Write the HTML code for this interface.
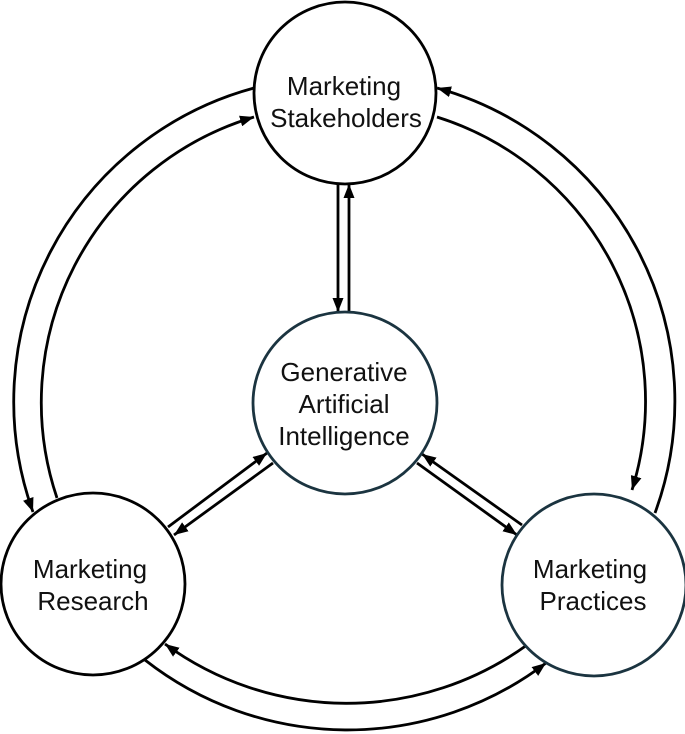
<!DOCTYPE html>
<html><head><meta charset="utf-8"><style>
html,body{margin:0;padding:0;background:#fff;}
svg{display:block;}
text{font-family:"Liberation Sans",Arial,sans-serif;font-size:26px;fill:#111;text-anchor:middle;}
</style></head><body>
<svg width="685" height="734" viewBox="0 0 685 734" xmlns="http://www.w3.org/2000/svg">
<defs>
<marker id="a" viewBox="0 0 14 11" refX="14" refY="5.5" markerWidth="14" markerHeight="11" markerUnits="userSpaceOnUse" orient="auto">
<path d="M0,0 L14,5.5 L0,11 z" fill="#000"/>
</marker>
</defs>
<g fill="none" stroke="#000" stroke-width="2.8">
<path d="M254,88 A325 325 0 0 0 33,512" marker-end="url(#a)"/>
<path d="M57,498 A298 298 0 0 1 254,117" marker-end="url(#a)"/>
<path d="M655,513 A325 325 0 0 0 437,88" marker-end="url(#a)"/>
<path d="M437,117 A298 298 0 0 1 632,490" marker-end="url(#a)"/>
<path d="M527,645 A308 308 0 0 1 165,644" marker-end="url(#a)"/>
<path d="M145,660 A328 328 0 0 0 546,663" marker-end="url(#a)"/>
<path d="M338,184 L338,312" marker-end="url(#a)"/>
<path d="M349,312 L349,184" marker-end="url(#a)"/>
<path d="M168,527 L267,453" marker-end="url(#a)"/>
<path d="M273,463 L174,535" marker-end="url(#a)"/>
<path d="M522,525 L422,454" marker-end="url(#a)"/>
<path d="M417,463 L517,535" marker-end="url(#a)"/>
</g>
<ellipse cx="345" cy="93" rx="91" ry="91" fill="#fff" stroke="#000" stroke-width="2.8"/>
<ellipse cx="345" cy="403" rx="92" ry="91" fill="#fff" stroke="#1b3440" stroke-width="2.8"/>
<ellipse cx="93" cy="584" rx="92" ry="91" fill="#fff" stroke="#000" stroke-width="2.8"/>
<ellipse cx="594" cy="585" rx="92" ry="91" fill="#fff" stroke="#1b3440" stroke-width="2.8"/>
<text x="344" y="95">Marketing</text>
<text x="346" y="127">Stakeholders</text>
<text x="344" y="381">Generative</text>
<text x="344" y="413">Artificial</text>
<text x="344" y="445">Intelligence</text>
<text x="90" y="578">Marketing</text>
<text x="93" y="610">Research</text>
<text x="590" y="578">Marketing</text>
<text x="593" y="610">Practices</text>
</svg>
</body></html>
